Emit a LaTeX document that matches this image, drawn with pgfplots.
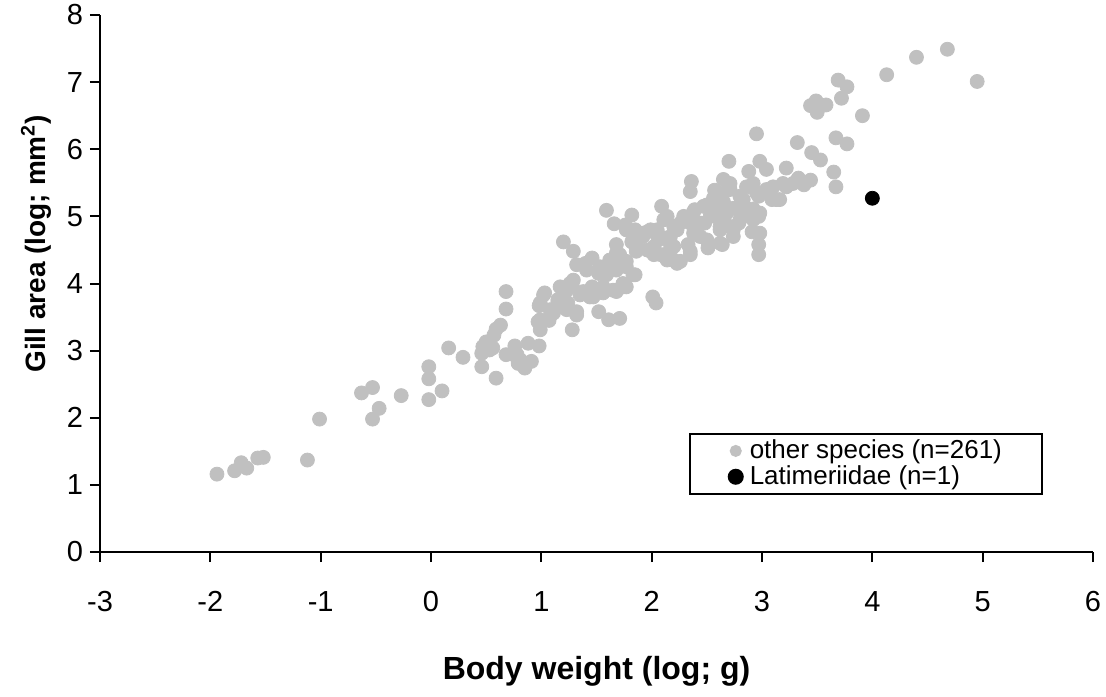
\documentclass[border=0pt]{standalone}
\usepackage{fontspec}
\setmainfont{Liberation Sans}
\usepackage{pgfplots}
\usepackage{pgfplotstable}
\pgfplotsset{compat=1.18}
\definecolor{ptgray}{HTML}{C0C0C0}
\pgfplotstableread{
x y
-1.94 1.16
-1.78 1.21
-1.72 1.33
-1.67 1.25
-1.57 1.40
-1.52 1.41
-1.12 1.37
-1.01 1.98
-0.63 2.37
-0.53 2.45
-0.47 2.14
-0.53 1.98
-0.27 2.33
-0.02 2.27
-0.02 2.58
-0.02 2.76
0.10 2.40
0.16 3.04
0.29 2.90
0.59 2.59
0.68 3.88
0.68 3.62
0.63 3.38
0.59 3.32
0.57 3.23
0.50 3.13
0.47 3.06
0.46 2.96
0.46 2.76
0.56 3.04
0.68 2.94
0.76 3.07
0.81 2.86
0.85 2.74
0.91 2.84
0.88 3.11
0.98 3.07
0.78 2.94
0.97 3.43
0.99 3.31
1.02 3.83
0.98 3.67
1.07 3.45
1.16 3.72
1.20 3.93
1.28 3.96
1.28 3.31
1.32 3.58
1.23 3.61
0.53 3.01
0.79 2.81
0.75 2.94
1.08 3.61
0.99 3.46
1.03 3.86
1.26 4.00
1.15 3.73
1.29 4.48
1.32 4.28
1.40 4.30
1.46 4.38
1.53 4.25
1.62 4.35
1.68 4.45
1.77 4.33
1.83 4.13
1.74 4.00
1.67 3.90
1.56 3.86
1.47 3.80
1.38 3.88
1.29 4.05
1.52 3.58
1.61 3.46
1.71 3.48
2.01 3.80
2.04 3.71
1.86 4.48
1.99 4.48
2.11 4.43
2.20 4.35
1.32 3.56
1.59 5.09
1.66 4.89
1.82 5.02
2.09 5.15
2.14 5.00
2.35 5.37
2.38 5.07
2.41 4.90
2.35 4.48
2.26 4.33
2.14 4.35
2.02 4.43
1.96 4.50
1.86 4.58
1.77 4.80
1.83 4.70
1.92 4.75
2.02 4.77
2.06 4.65
2.17 4.70
2.23 4.80
1.20 4.62
1.68 4.58
1.71 4.43
1.41 4.20
1.52 4.15
1.59 4.13
1.68 4.20
1.77 4.25
1.85 4.13
1.17 3.95
1.23 3.90
1.46 3.95
1.56 3.95
1.65 3.90
1.74 3.95
0.99 3.71
1.15 3.76
1.11 3.56
1.44 3.80
2.11 4.95
2.36 5.52
2.57 5.39
2.65 5.35
2.71 5.49
2.80 5.30
2.86 5.44
2.95 5.35
3.04 5.40
3.13 5.25
3.22 5.44
3.28 5.49
3.35 5.52
2.98 5.05
2.92 4.95
2.91 4.77
2.98 4.75
2.97 4.58
2.97 4.43
2.79 4.90
2.68 5.05
2.62 4.85
2.53 5.00
2.44 4.90
2.50 4.65
2.51 4.53
2.64 4.58
2.74 4.70
2.38 4.75
2.33 4.58
2.35 4.43
2.26 4.90
2.23 4.30
2.08 4.43
1.82 4.62
1.76 4.87
1.85 4.80
1.96 4.77
2.05 4.80
2.11 4.68
2.17 4.58
1.59 4.25
1.71 4.30
1.77 3.95
1.68 3.88
1.35 3.83
1.20 3.90
1.24 3.71
1.32 3.53
2.95 6.23
3.32 6.10
3.45 5.95
3.53 5.84
2.70 5.82
2.98 5.82
3.04 5.70
2.88 5.67
3.22 5.72
2.65 5.55
2.92 5.49
3.10 5.44
3.19 5.49
3.32 5.54
3.44 5.54
3.38 5.47
3.16 5.25
2.83 5.17
2.74 5.12
2.65 5.22
2.56 5.27
2.50 5.17
2.39 5.10
2.29 5.00
1.99 4.80
2.20 4.85
2.35 4.90
2.57 5.07
2.62 4.95
2.71 4.85
2.80 4.95
2.89 5.05
2.97 5.00
2.62 4.60
2.44 4.70
2.12 4.40
2.20 4.55
2.02 4.55
1.92 4.70
4.68 7.49
4.40 7.37
4.13 7.11
4.95 7.01
3.69 7.03
3.77 6.93
3.72 6.76
3.91 6.50
3.44 6.65
3.49 6.72
3.58 6.66
3.50 6.55
3.67 6.17
3.77 6.08
3.65 5.66
3.67 5.44
3.33 5.57
2.71 5.40
2.83 5.25
2.97 5.30
3.09 5.25
2.79 5.11
2.92 5.11
2.47 5.15
2.56 5.11
2.62 5.00
2.48 4.90
2.74 4.80
2.62 4.80
}\others
\begin{document}
\begin{tikzpicture}
\useasboundingbox (-50pt,-72pt) rectangle (503pt,276pt);
\begin{axis}[
  scale only axis, width=496.5pt, height=268.5pt,
  at={(0pt,0pt)}, anchor=south west,
  xmin=-3, xmax=6, ymin=0, ymax=8,
  axis x line*=bottom, axis y line*=left,
  axis line style={line width=1pt, black},
  xtick={-3,-2,-1,0,1,2,3,4,5,6}, ytick={0,1,2,3,4,5,6,7,8},
  tick align=outside, major tick length=5pt,
  tick style={line width=1pt, black},
  tick label style={font=\fontsize{14.5}{14.5}\selectfont},
  /pgf/number format/assume math mode=true,
  xticklabel style={yshift=-11pt},
  xlabel={Body weight (log; g)},
  ylabel={Gill area (log; mm\textsuperscript{2})},
  xlabel style={font=\bfseries\fontsize{16}{16}\selectfont, at={(axis description cs:0.5,-0.222)}, anchor=center},
  ylabel style={font=\bfseries\fontsize{14}{14}\selectfont, at={(axis description cs:-0.0645,0.574)}, anchor=center},
  legend cell align=left,
  legend style={draw=black, line width=1pt, at={(0.9496,0.2216)}, anchor=north east,
    font=\fontsize{13}{13}\selectfont, inner xsep=17pt, inner ysep=2pt,
    nodes={inner xsep=3pt, inner ysep=1pt}, row sep=0pt},
]
\addplot[only marks, mark=*, mark size=3.5pt, color=ptgray, mark options={draw=none, fill=ptgray},
  legend image code/.code={\path[draw=none,fill=none] (0pt,-3.5pt) rectangle (9.5pt,3.5pt); \fill[ptgray] (6pt,0pt) circle (2.5pt);}]
  table[x=x, y=y] {\others};
\addlegendentry{other species (n=261)}
\addplot[only marks, mark=*, mark size=3.5pt, color=black, mark options={draw=none, fill=black},
  legend image code/.code={\path[draw=none,fill=none] (0pt,-3.5pt) rectangle (9.5pt,3.5pt); \fill[black] (6pt,0pt) circle (3.5pt);}]
  coordinates {(4.00,5.27)};
\addlegendentry{Latimeriidae (n=1)}
\end{axis}
\end{tikzpicture}
\end{document}
